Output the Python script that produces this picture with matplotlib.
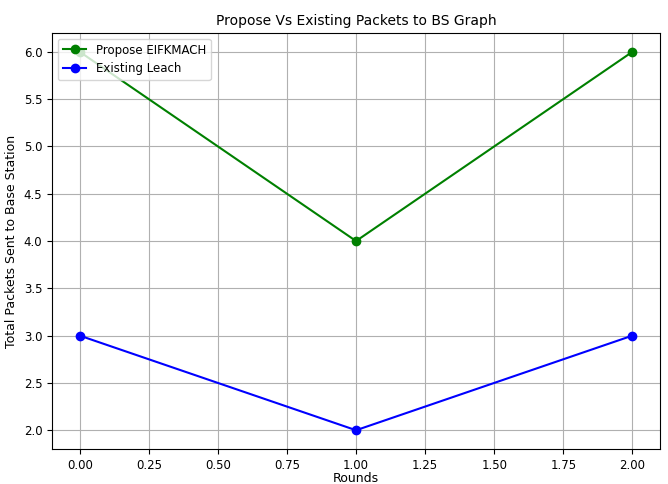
import matplotlib
matplotlib.use("Agg")
from matplotlib import pyplot as plt

rounds = [0, 1, 2]
propose_packets = [6, 4, 6]
existing_packets = [3, 2, 3]

fig = plt.figure(figsize=(6.68, 4.84), dpi=100)
ax = fig.add_axes([0.078, 0.072, 0.910, 0.860])

ax.plot(rounds, propose_packets, marker="o", color="green", label="Propose EIFKMACH")
ax.plot(rounds, existing_packets, marker="o", color="blue", label="Existing Leach")

ax.set_title("Propose Vs Existing Packets to BS Graph", fontsize=10)
ax.set_xlabel("Rounds", fontsize=9, labelpad=0)
ax.set_ylabel("Total Packets Sent to Base Station", fontsize=9)
ax.tick_params(labelsize=8.5)
ax.grid(True)
ax.legend(loc="upper left", fontsize=8.5)

fig.savefig("out.png", dpi=100)
